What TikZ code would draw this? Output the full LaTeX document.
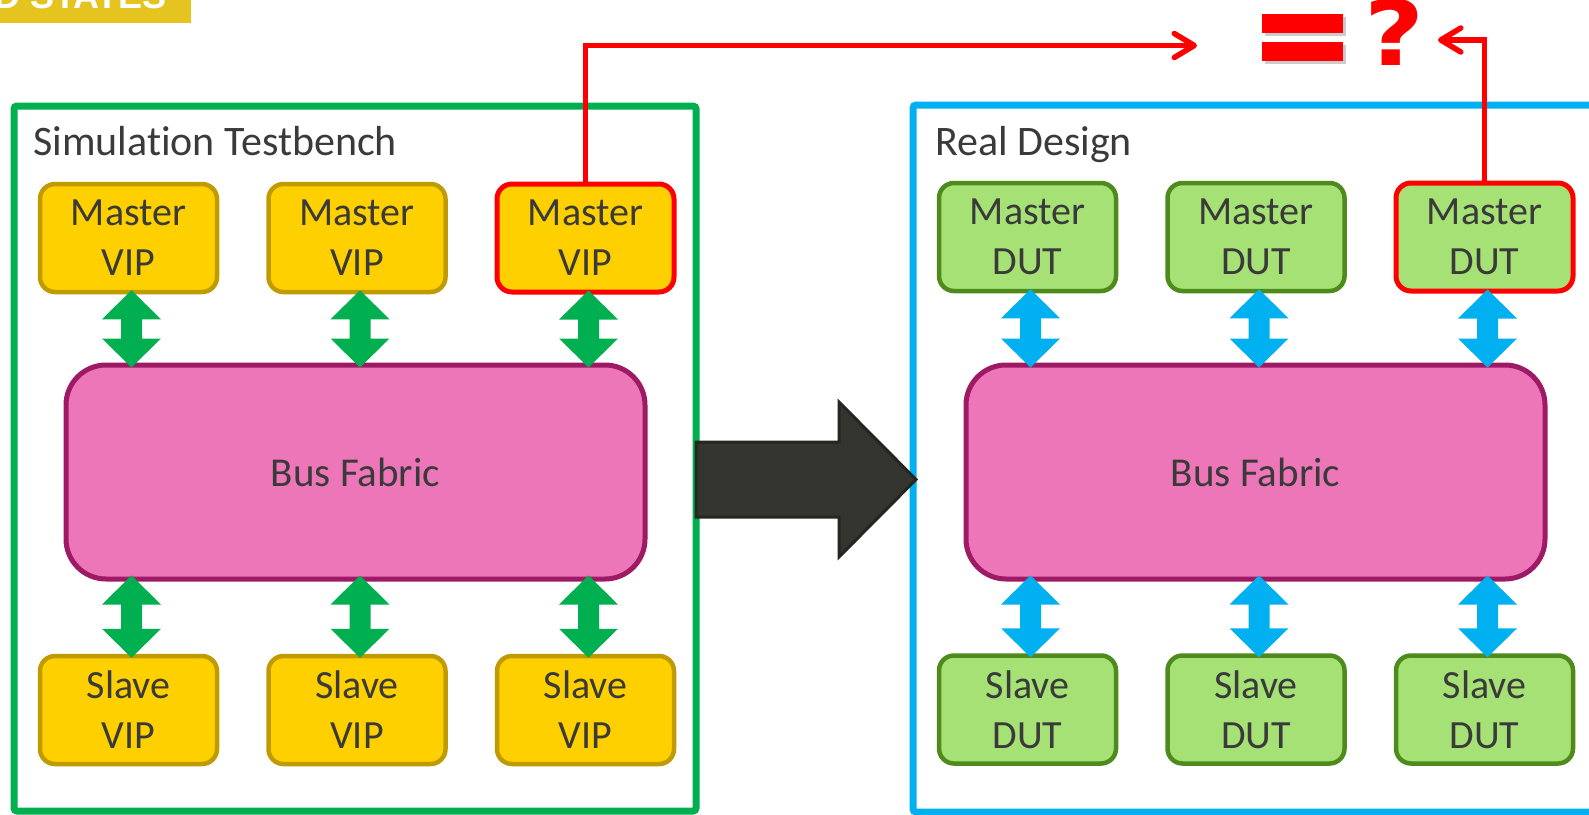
\documentclass[tikz,border=0pt]{standalone}
\usepackage{fontspec}
\setmainfont{Carlito}[Ligatures=NoCommon]
\newfontfamily\qfont{DejaVu Sans}
\newfontfamily\banfont{Liberation Sans}
\usetikzlibrary{arrows.meta,calc}
\definecolor{txt}{HTML}{3A3A3A}
\definecolor{goldfill}{HTML}{FFD000}
\definecolor{golddraw}{HTML}{BF9B00}
\definecolor{dutfill}{HTML}{A5E174}
\definecolor{dutdraw}{HTML}{4F8A1D}
\definecolor{busfill}{HTML}{EC76B8}
\definecolor{busdraw}{HTML}{9E1A64}
\definecolor{mygreen}{HTML}{00B050}
\definecolor{myblue}{HTML}{00B0F0}
\definecolor{myred}{HTML}{FF0000}
\definecolor{banner}{HTML}{E6C41F}
\definecolor{bigfill}{HTML}{35352F}
\definecolor{bigdraw}{HTML}{262621}
\newcommand\dblarrow[3]{\fill[#3] let \p1=#1, \p2=#2 in
 (\x1,\y1) -- ++(29.5pt,-29pt) -- ++(-19pt,0pt) -- (\x1+10.5pt,\y2+29pt) -- ++(19pt,0pt)
 -- (\x1,\y2) -- (\x1-29.5pt,\y2+29pt) -- ++(19pt,0pt) -- (\x1-10.5pt,\y1-29pt) -- ++(-19pt,0pt) -- cycle;}
\tikzset{
 outerbox/.style={draw, line width=7pt, rounded corners=3pt, minimum width=#1, inner sep=0pt},
 titletext/.style={anchor=base west, inner sep=0pt, text=txt, font=\fontsize{42}{50}\selectfont},
 blk/.style={rounded corners=15pt, line width=4.5pt, minimum width=177pt, minimum height=108pt,
   inner sep=0pt, align=center, text=txt, font=\fontsize{40}{50}\selectfont},
 vip/.style={blk, fill=goldfill, draw=golddraw},
 dut/.style={blk, fill=dutfill, draw=dutdraw},
 redbox/.style={draw=myred, line width=5pt},
 bus/.style={rounded corners=40pt, line width=5pt, fill=busfill, draw=busdraw,
   minimum width=579pt, minimum height=214pt, inner sep=0pt, text=txt, font=\fontsize{41}{50}\selectfont},
 redline/.style={draw=myred, line width=5.5pt, -{Straight Barb[length=20pt,width=24pt,round]}}
}
\begin{document}
\begin{tikzpicture}[x=1pt,y=-1pt]
\useasboundingbox (0,0) rectangle (1589,814);
% banner
\fill[banner] (0,0) rectangle (191,23);
\node[anchor=base west, inner sep=0pt, text=white, font=\banfont\bfseries\fontsize{36}{36}\selectfont] (ban) at (-6,8) {D STATES};
% outer boxes
\node[outerbox=682pt, draw=mygreen, minimum height=705pt] (tb) at (355,458.5) {};
\node[outerbox=787pt, draw=myblue, minimum height=707pt] (rd) at (1306.5,458.5) {};
\node[titletext] (t1) at (33,155) {Simulation Testbench};
\node[titletext] (t2) at (935,155) {Real Design};
% left side
\node[vip] (m1) at (128.5,238) {Master\\VIP};
\node[vip] (m2) at (357,238) {Master\\VIP};
\node[vip, redbox] (m3) at (585.5,238) {Master\\VIP};
\node[vip] (s1) at (128.5,710) {Slave\\VIP};
\node[vip] (s2) at (357,710) {Slave\\VIP};
\node[vip] (s3) at (585.5,710) {Slave\\VIP};
\node[bus] (bus1) at (355.5,472) {Bus Fabric};
% right side
\node[dut] (d1) at (1027.5,237) {Master\\DUT};
\node[dut] (d2) at (1256,237) {Master\\DUT};
\node[dut, redbox] (d3) at (1484.5,237) {Master\\DUT};
\node[dut] (e1) at (1027.5,709.5) {Slave\\DUT};
\node[dut] (e2) at (1256,709.5) {Slave\\DUT};
\node[dut] (e3) at (1484.5,709.5) {Slave\\DUT};
\node[bus] (bus2) at (1255.5,472) {Bus Fabric};
% double arrows
\foreach \m/\s/\b/\c in {m1/s1/bus1/mygreen, m2/s2/bus1/mygreen, m3/s3/bus1/mygreen,
                         d1/e1/bus2/myblue, d2/e2/bus2/myblue, d3/e3/bus2/myblue}{
  \dblarrow{($(\m.south)+(3,-4)$)}{($(\m.south |- \b.north)+(3,5)$)}{\c}
  \dblarrow{($(\s.north |- \b.south)+(3,-6)$)}{($(\s.north)+(3,4)$)}{\c}
}
% big arrow
\filldraw[fill=bigfill, draw=bigdraw, line width=3pt, line join=miter]
  (696,442) -- (839,442) -- (839,402) -- (916,479.5) -- (839,557) -- (839,517) -- (696,517) -- cycle;
% equals and question
\fill[black!20] (1265,17) rectangle (1346,36);
\fill[black!20] (1265,45) rectangle (1346,64);
\fill[myred] (1262,14) rectangle (1343,33);
\fill[myred] (1262,42) rectangle (1343,61);
\node[anchor=base, inner sep=0pt, text=myred, xscale=1.15, font=\qfont\bfseries\fontsize{90}{90}\selectfont] (q) at (1394.5,65) {?};
\coordinate (eqL) at (1197,45.5);
\coordinate (qR) at (1438,40);
\draw[redline] (m3.north) |- (eqL);
\draw[redline] (d3.north) |- (qR);
\end{tikzpicture}
\end{document}
